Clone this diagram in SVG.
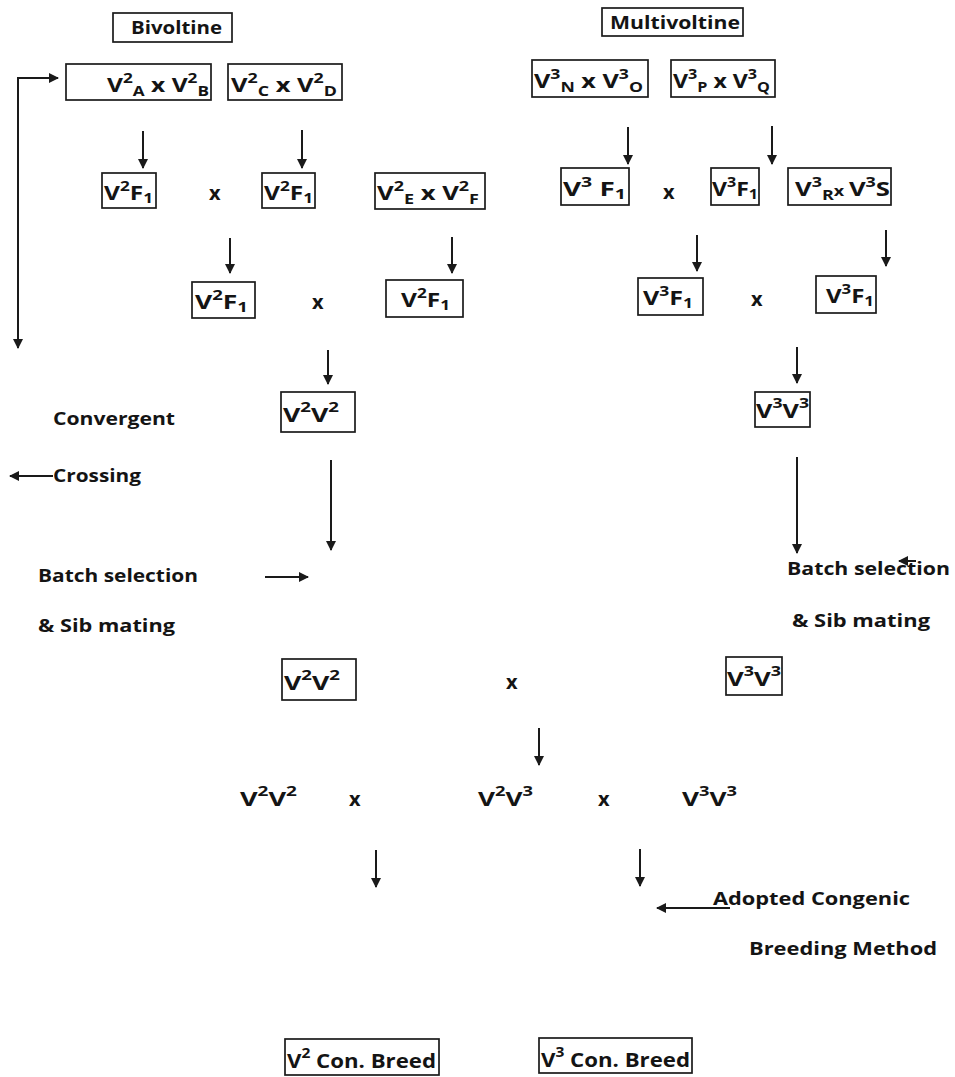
<svg xmlns="http://www.w3.org/2000/svg" width="955" height="1077" viewBox="0 0 955 1077">
  <style>
    text { font-family: "Open Sans", "Liberation Sans", sans-serif; font-weight: 700; fill: #141414; }
    .lbl { font-size: 17px; }
    .f { font-size: 20px; }
    .s { font-size: 14px; }
    .box { fill: none; stroke: #1a1a1a; stroke-width: 1.7; }
    .ln { stroke: #1a1a1a; stroke-width: 2; fill: none; marker-end: url(#ah); }
  </style>
  <defs>
    <marker id="ah" viewBox="0 0 10 10" refX="9" refY="5" markerWidth="5" markerHeight="5" orient="auto" markerUnits="strokeWidth">
      <path d="M0,0 L10,5 L0,10 Z" fill="#1a1a1a"/>
    </marker>
  </defs>
  <rect width="955" height="1077" fill="#ffffff"/>

  <!-- connectors -->
  <g id="connectors">
    <!-- feedback loop on the far left -->
    <polyline class="ln" points="18,348 18,78 58,78"/>
    <line class="ln" x1="18" y1="100" x2="18" y2="348"/>
    <!-- bivoltine chain -->
    <line class="ln" x1="143" y1="131" x2="143" y2="168"/>
    <line class="ln" x1="302" y1="130" x2="302" y2="168"/>
    <line class="ln" x1="230" y1="238" x2="230" y2="273"/>
    <line class="ln" x1="452" y1="237" x2="452" y2="273"/>
    <line class="ln" x1="328" y1="350" x2="328" y2="384"/>
    <line class="ln" x1="331" y1="460" x2="331" y2="550"/>
    <line class="ln" x1="265" y1="577" x2="308" y2="577"/>
    <line class="ln" x1="53" y1="476" x2="10" y2="476"/>
    <!-- multivoltine chain -->
    <line class="ln" x1="628" y1="127" x2="628" y2="164"/>
    <line class="ln" x1="772" y1="126" x2="772" y2="164"/>
    <line class="ln" x1="697" y1="235" x2="697" y2="271"/>
    <line class="ln" x1="886" y1="230" x2="886" y2="266"/>
    <line class="ln" x1="797" y1="347" x2="797" y2="383"/>
    <line class="ln" x1="797" y1="457" x2="797" y2="553"/>
    <line class="ln" x1="916" y1="561" x2="899" y2="561"/>
    <!-- final crosses -->
    <line class="ln" x1="539" y1="728" x2="539" y2="765"/>
    <line class="ln" x1="376" y1="850" x2="376" y2="887"/>
    <line class="ln" x1="640" y1="849" x2="640" y2="886"/>
    <line class="ln" x1="730" y1="908" x2="657" y2="908"/>
  </g>

  <!-- bivoltine side -->
  <g id="bivoltine">
    <rect class="box" x="113" y="13" width="119" height="29"/>
    <text class="lbl" x="131" y="34" textLength="91" lengthAdjust="spacingAndGlyphs">Bivoltine</text>
  </g>
  <g id="v2ab">
    <rect class="box" x="66" y="64" width="145" height="36"/>
    <text class="f" x="107" y="92" textLength="102" lengthAdjust="spacingAndGlyphs">V<tspan class="s" dy="-9">2</tspan><tspan class="s" dy="13">A</tspan><tspan dy="-4"> x V</tspan><tspan class="s" dy="-9">2</tspan><tspan class="s" dy="13">B</tspan></text>
  </g>
  <g id="v2cd">
    <rect class="box" x="228" y="64" width="114" height="36"/>
    <text class="f" x="231" y="92" textLength="106" lengthAdjust="spacingAndGlyphs">V<tspan class="s" dy="-9">2</tspan><tspan class="s" dy="13">C</tspan><tspan dy="-4"> x V</tspan><tspan class="s" dy="-9">2</tspan><tspan class="s" dy="13">D</tspan></text>
  </g>
  <g id="v2f1-a">
    <rect class="box" x="102" y="173" width="54" height="35"/>
    <text class="f" x="104" y="200" textLength="49" lengthAdjust="spacingAndGlyphs">V<tspan class="s" dy="-9">2</tspan><tspan dy="9">F</tspan><tspan class="s" dy="3">1</tspan></text>
  </g>
  <g id="cross-1"><text class="f" x="209" y="200">x</text></g>
  <g id="v2f1-b">
    <rect class="box" x="262" y="173" width="53" height="35"/>
    <text class="f" x="264" y="200" textLength="49" lengthAdjust="spacingAndGlyphs">V<tspan class="s" dy="-9">2</tspan><tspan dy="9">F</tspan><tspan class="s" dy="3">1</tspan></text>
  </g>
  <g id="v2ef">
    <rect class="box" x="375" y="173" width="110" height="36"/>
    <text class="f" x="377" y="200" textLength="102" lengthAdjust="spacingAndGlyphs">V<tspan class="s" dy="-9">2</tspan><tspan class="s" dy="13">E</tspan><tspan dy="-4"> x V</tspan><tspan class="s" dy="-9">2</tspan><tspan class="s" dy="13">F</tspan></text>
  </g>
  <g id="v2f1-c">
    <rect class="box" x="192" y="282" width="63" height="36"/>
    <text class="f" x="195" y="309" textLength="53" lengthAdjust="spacingAndGlyphs">V<tspan class="s" dy="-9">2</tspan><tspan dy="9">F</tspan><tspan class="s" dy="3">1</tspan></text>
  </g>
  <g id="cross-2"><text class="f" x="312" y="309">x</text></g>
  <g id="v2f1-d">
    <rect class="box" x="386" y="280" width="77" height="37"/>
    <text class="f" x="401" y="307" textLength="49" lengthAdjust="spacingAndGlyphs">V<tspan class="s" dy="-9">2</tspan><tspan dy="9">F</tspan><tspan class="s" dy="3">1</tspan></text>
  </g>
  <g id="v2v2-a">
    <rect class="box" x="281" y="392" width="74" height="40"/>
    <text class="f" x="283" y="422" textLength="56" lengthAdjust="spacingAndGlyphs">V<tspan class="s" dy="-10">2</tspan><tspan dy="10">V</tspan><tspan class="s" dy="-10">2</tspan></text>
  </g>
  <g id="convergent">
    <text class="lbl" x="53" y="425" textLength="122" lengthAdjust="spacingAndGlyphs">Convergent</text>
    <text class="lbl" x="53" y="482" textLength="88" lengthAdjust="spacingAndGlyphs">Crossing</text>
  </g>
  <g id="batch-left">
    <text class="lbl" x="38" y="582" textLength="160" lengthAdjust="spacingAndGlyphs">Batch selection</text>
    <text class="lbl" x="38" y="632" textLength="137" lengthAdjust="spacingAndGlyphs">&amp; Sib mating</text>
  </g>
  <g id="v2v2-b">
    <rect class="box" x="282" y="659" width="74" height="41"/>
    <text class="f" x="284" y="690" textLength="56" lengthAdjust="spacingAndGlyphs">V<tspan class="s" dy="-10">2</tspan><tspan dy="10">V</tspan><tspan class="s" dy="-10">2</tspan></text>
  </g>

  <!-- multivoltine side -->
  <g id="multivoltine">
    <rect class="box" x="602" y="8" width="141" height="28"/>
    <text class="lbl" x="610" y="29" textLength="130" lengthAdjust="spacingAndGlyphs">Multivoltine</text>
  </g>
  <g id="v3no">
    <rect class="box" x="532" y="60" width="116" height="37"/>
    <text class="f" x="534" y="88" textLength="109" lengthAdjust="spacingAndGlyphs">V<tspan class="s" dy="-9">3</tspan><tspan class="s" dy="13">N</tspan><tspan dy="-4"> x V</tspan><tspan class="s" dy="-9">3</tspan><tspan class="s" dy="13">O</tspan></text>
  </g>
  <g id="v3pq">
    <rect class="box" x="671" y="60" width="104" height="37"/>
    <text class="f" x="673" y="88" textLength="97" lengthAdjust="spacingAndGlyphs">V<tspan class="s" dy="-9">3</tspan><tspan class="s" dy="13">P</tspan><tspan dy="-4"> x V</tspan><tspan class="s" dy="-9">3</tspan><tspan class="s" dy="13">Q</tspan></text>
  </g>
  <g id="v3f1-a">
    <rect class="box" x="561" y="168" width="68" height="37"/>
    <text class="f" x="563" y="196" textLength="63" lengthAdjust="spacingAndGlyphs">V<tspan class="s" dy="-9">3</tspan><tspan dy="9"> F</tspan><tspan class="s" dy="3">1</tspan></text>
  </g>
  <g id="cross-3"><text class="f" x="663" y="199">x</text></g>
  <g id="v3f1-b">
    <rect class="box" x="711" y="168" width="48" height="37"/>
    <text class="f" x="712" y="196" textLength="46" lengthAdjust="spacingAndGlyphs">V<tspan class="s" dy="-9">3</tspan><tspan dy="9">F</tspan><tspan class="s" dy="3">1</tspan></text>
  </g>
  <g id="v3rs">
    <rect class="box" x="788" y="168" width="103" height="37"/>
    <text class="f" x="795" y="196" textLength="95" lengthAdjust="spacingAndGlyphs">V<tspan class="s" dy="-9">3</tspan><tspan class="s" dy="13">R</tspan><tspan class="s" dy="-4">x </tspan><tspan>V</tspan><tspan class="s" dy="-9">3</tspan><tspan dy="9">S</tspan></text>
  </g>
  <g id="v3f1-c">
    <rect class="box" x="638" y="278" width="65" height="37"/>
    <text class="f" x="643" y="305" textLength="50" lengthAdjust="spacingAndGlyphs">V<tspan class="s" dy="-9">3</tspan><tspan dy="9">F</tspan><tspan class="s" dy="3">1</tspan></text>
  </g>
  <g id="cross-4"><text class="f" x="751" y="306">x</text></g>
  <g id="v3f1-d">
    <rect class="box" x="816" y="276" width="60" height="37"/>
    <text class="f" x="826" y="303" textLength="48" lengthAdjust="spacingAndGlyphs">V<tspan class="s" dy="-9">3</tspan><tspan dy="9">F</tspan><tspan class="s" dy="3">1</tspan></text>
  </g>
  <g id="v3v3-a">
    <rect class="box" x="755" y="392" width="55" height="35"/>
    <text class="f" x="756" y="418" textLength="53" lengthAdjust="spacingAndGlyphs">V<tspan class="s" dy="-10">3</tspan><tspan dy="10">V</tspan><tspan class="s" dy="-10">3</tspan></text>
  </g>
  <g id="batch-right">
    <text class="lbl" x="787" y="575" textLength="163" lengthAdjust="spacingAndGlyphs">Batch selection</text>
    <text class="lbl" x="792" y="627" textLength="138" lengthAdjust="spacingAndGlyphs">&amp; Sib mating</text>
  </g>
  <g id="v3v3-b">
    <rect class="box" x="726" y="657" width="56" height="38"/>
    <text class="f" x="727" y="686" textLength="54" lengthAdjust="spacingAndGlyphs">V<tspan class="s" dy="-10">3</tspan><tspan dy="10">V</tspan><tspan class="s" dy="-10">3</tspan></text>
  </g>
  <g id="cross-5"><text class="f" x="506" y="689">x</text></g>

  <!-- combined generation -->
  <g id="v2v2-c"><text class="f" x="240" y="806" textLength="57" lengthAdjust="spacingAndGlyphs">V<tspan class="s" dy="-10">2</tspan><tspan dy="10">V</tspan><tspan class="s" dy="-10">2</tspan></text></g>
  <g id="cross-6"><text class="f" x="349" y="806">x</text></g>
  <g id="v2v3"><text class="f" x="478" y="806" textLength="55" lengthAdjust="spacingAndGlyphs">V<tspan class="s" dy="-10">2</tspan><tspan dy="10">V</tspan><tspan class="s" dy="-10">3</tspan></text></g>
  <g id="cross-7"><text class="f" x="598" y="806">x</text></g>
  <g id="v3v3-c"><text class="f" x="682" y="806" textLength="55" lengthAdjust="spacingAndGlyphs">V<tspan class="s" dy="-10">3</tspan><tspan dy="10">V</tspan><tspan class="s" dy="-10">3</tspan></text></g>

  <g id="congenic-note">
    <text class="lbl" x="713" y="905" textLength="197" lengthAdjust="spacingAndGlyphs">Adopted Congenic</text>
    <text class="lbl" x="749" y="955" textLength="188" lengthAdjust="spacingAndGlyphs">Breeding Method</text>
  </g>

  <g id="v2-con-breed">
    <rect class="box" x="285" y="1039" width="154" height="36"/>
    <text class="f" x="287" y="1068" textLength="149" lengthAdjust="spacingAndGlyphs">V<tspan class="s" dy="-10">2</tspan><tspan dy="10"> Con. Breed</tspan></text>
  </g>
  <g id="v3-con-breed">
    <rect class="box" x="539" y="1038" width="153" height="35"/>
    <text class="f" x="541" y="1067" textLength="149" lengthAdjust="spacingAndGlyphs">V<tspan class="s" dy="-10">3</tspan><tspan dy="10"> Con. Breed</tspan></text>
  </g>
</svg>
